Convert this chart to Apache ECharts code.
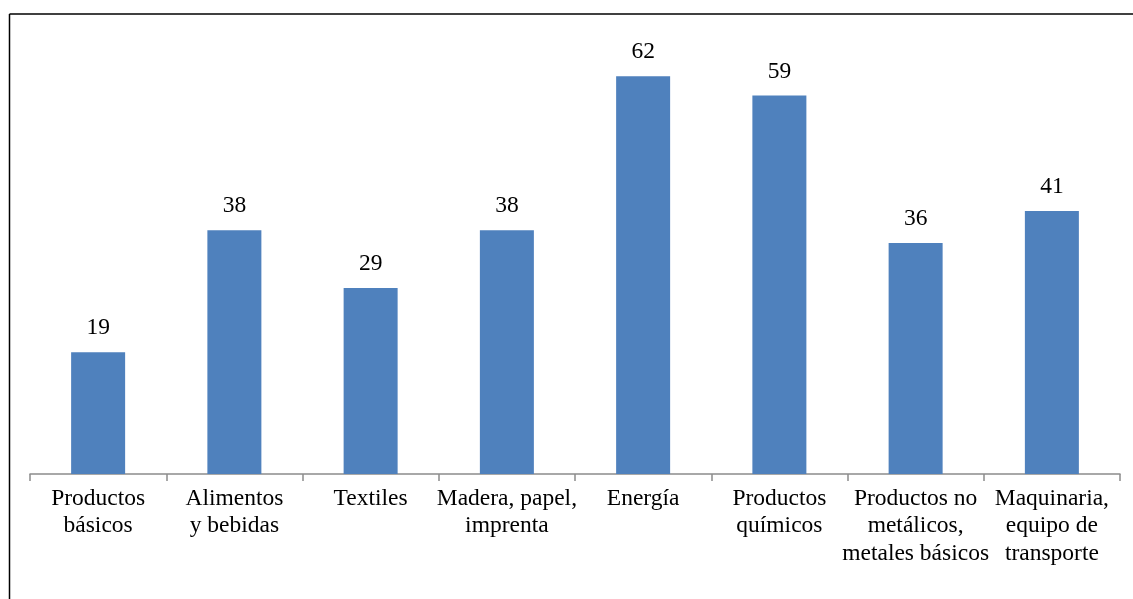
<!DOCTYPE html>
<html>
<head>
<meta charset="utf-8">
<script src="https://cdn.jsdelivr.net/npm/echarts@6/dist/echarts.min.js"></script>
<style>
  html, body { margin: 0; padding: 0; background: #fff; }
  #chart { width: 1133px; height: 599px; }
</style>
</head>
<body>
<div id="chart"></div>
<script>
// Sector names (line breaks as drawn under the axis)
const categories = [
  'Productos\nbásicos',
  'Alimentos\ny bebidas',
  'Textiles',
  'Madera, papel,\nimprenta',
  'Energía',
  'Productos\nquímicos',
  'Productos no\nmetálicos,\nmetales básicos',
  'Maquinaria,\nequipo de\ntransporte'
];
const values = [19, 38, 29, 38, 62, 59, 36, 41];

const chart = echarts.init(document.getElementById('chart'), null, { renderer: 'canvas' });
const serif = '"Liberation Serif", "DejaVu Serif", serif';

chart.setOption({
  animation: false,
  backgroundColor: '#ffffff',
  graphic: [
    { type: 'line', shape: { x1: 9.5, y1: 14, x2: 1133, y2: 14 }, style: { stroke: '#000', lineWidth: 1.5 } },
    { type: 'line', shape: { x1: 9.5, y1: 14, x2: 9.5, y2: 599 }, style: { stroke: '#000', lineWidth: 1.5 } }
  ],
  grid: { left: 30, right: 13, top: 25, bottom: 125, containLabel: false },
  xAxis: {
    type: 'category',
    data: categories,
    boundaryGap: true,
    axisLine: { show: true, lineStyle: { color: '#8c8c8c', width: 1.5 } },
    axisTick: { show: true, length: 7, lineStyle: { color: '#8c8c8c', width: 1.5 } },
    axisLabel: {
      interval: 0,
      margin: 11,
      color: '#000',
      fontFamily: serif,
      fontSize: 23.5,
      lineHeight: 27.5,
      align: 'center'
    }
  },
  yAxis: {
    type: 'value',
    min: 0,
    max: 70,
    show: false,
    splitLine: { show: false }
  },
  series: [{
    type: 'bar',
    data: values,
    barWidth: 54,
    itemStyle: { color: '#4F81BD' },
    label: {
      show: true,
      position: 'top',
      distance: 12,
      color: '#000',
      fontFamily: serif,
      fontSize: 23.5
    }
  }]
});
</script>
</body>
</html>
